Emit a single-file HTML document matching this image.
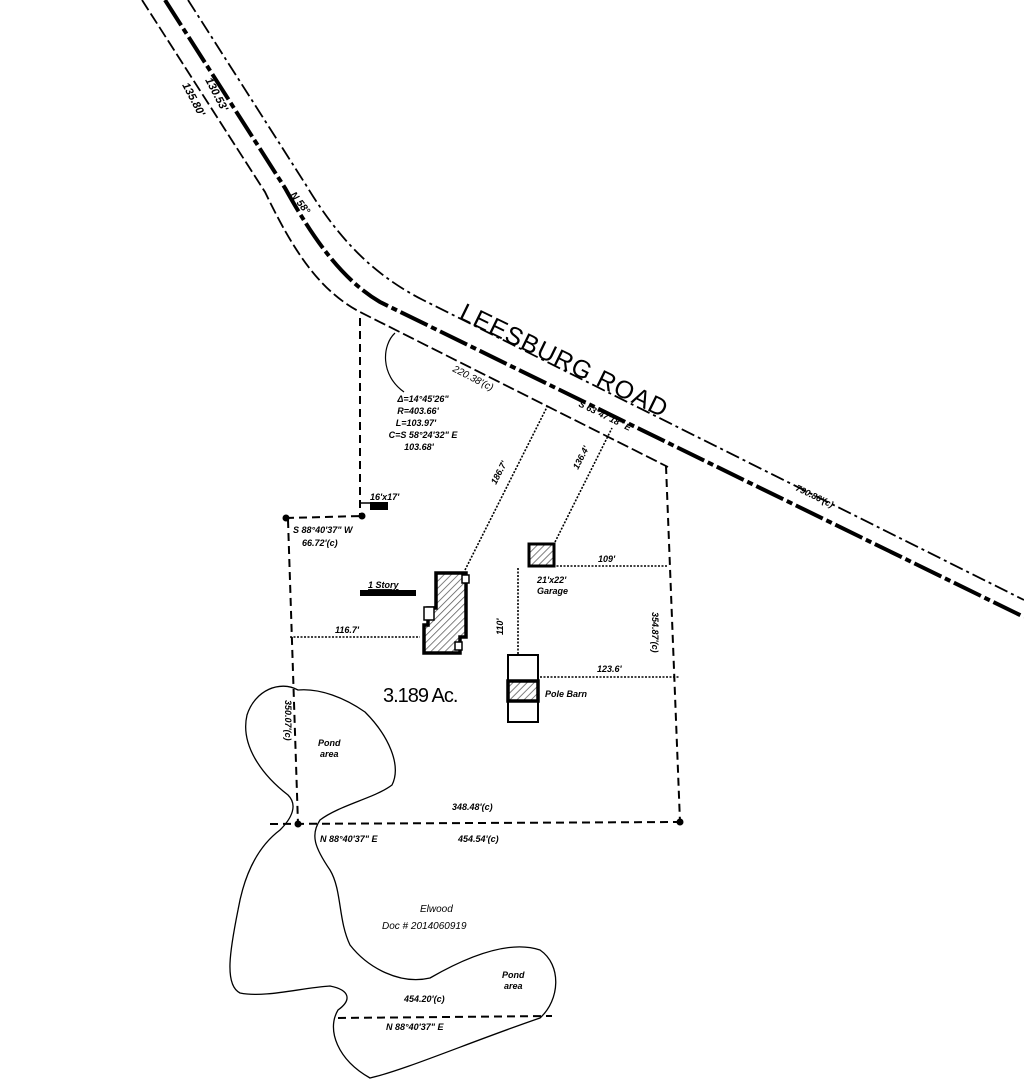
<!DOCTYPE html>
<html><head><meta charset="utf-8"><style>
html,body{margin:0;padding:0;background:#fff}
svg{display:block}
text{font-family:"Liberation Sans",sans-serif;fill:#000}
.b{font-weight:bold;font-style:italic;font-size:9px}
</style></head><body>
<svg width="1024" height="1086" viewBox="0 0 1024 1086" xmlns="http://www.w3.org/2000/svg">
<defs>
<pattern id="h" width="5" height="5" patternUnits="userSpaceOnUse" patternTransform="rotate(45)">
<rect width="5" height="5" fill="#fff"/><line x1="0" y1="0" x2="0" y2="5" stroke="#555" stroke-width="1.5"/></pattern>
</defs>
<g fill="none" stroke="#000">
<!-- road -->
<path d="M188,0 L306,185 C338,238 372,274 423,300 L1024,600" stroke-width="1.8" stroke-dasharray="14,4,3,4"/>
<path d="M165,0 L285,188 C315,242 343,280 380,302 L1024,617" stroke-width="4" stroke-dasharray="30,4,6,4"/>
<path d="M142,0 L265,192 C292,248 318,290 360,312 L668,467" stroke-width="1.8" stroke-dasharray="12,4"/>
<!-- parcel boundary -->
<g stroke-width="2" stroke-dasharray="8,5">
<path d="M360,318 V516"/>
<path d="M286,518 L362,516"/>
<path d="M288,520 L298,824"/>
<path d="M270,824 L680,822"/>
<path d="M666,466 L680,822"/>
<path d="M338,1018 L552,1016"/>
</g>
<!-- dotted ties -->
<g stroke-width="1.6" stroke-dasharray="2,1.5">
<path d="M290,637 H420"/>
<path d="M553,566 H668"/>
<path d="M540,677 H680"/>
<path d="M518,568 V680"/>
<path d="M465,570 L548,405"/>
<path d="M555,542 L612,428"/>
</g>
<!-- curve arrow -->
<path d="M404,392 C380,375 382,345 395,333" stroke-width="1.2"/>
<path d="M360,503 H372" stroke-width="1.5"/>
<!-- buildings -->
<path d="M436,573 H466 V637 H460 V653 H424 V625 H428 V608 H436 Z" fill="url(#h)" stroke-width="3.5"/>
<rect x="424" y="607" width="10" height="13" fill="#fff" stroke-width="1.5"/>
<rect x="462" y="575" width="7" height="8" fill="#fff" stroke-width="1.5"/>
<rect x="455" y="642" width="7" height="8" fill="#fff" stroke-width="1.5"/>
<rect x="529" y="544" width="25" height="22" fill="url(#h)" stroke-width="3"/>
<rect x="508" y="655" width="30" height="67" fill="#fff" stroke-width="2"/>
<rect x="508" y="681" width="30" height="20" fill="url(#h)" stroke-width="3.5"/>
<!-- ponds -->
<path d="M298,690 C280,680 255,690 247,715 C240,745 262,775 288,795 C298,805 292,818 280,830 C260,845 245,870 238,910 C230,950 224,985 240,993 C265,998 300,988 330,986 C350,990 352,1000 338,1010 C326,1030 338,1060 370,1078 C405,1070 470,1042 540,1018 C560,1000 562,965 540,950 C510,940 470,955 430,978 C400,985 368,968 350,945 C338,920 342,890 330,870 C315,848 310,835 320,820 C340,805 375,798 392,785 C402,765 388,735 365,712 C345,698 320,688 298,690 Z" stroke-width="1.3"/>
</g>
<!-- corner dots -->
<g fill="#000"><circle cx="286" cy="518" r="3.5"/><circle cx="362" cy="516" r="3.5"/><circle cx="298" cy="824" r="3.5"/><circle cx="680" cy="822" r="3.5"/></g>
<!-- labels -->
<text transform="translate(458,318) rotate(26)" font-size="25" letter-spacing="1">LEESBURG ROAD</text>
<text transform="translate(452,371) rotate(27)" font-size="10" font-style="italic">220.38'(c)</text>
<text class="b" transform="translate(578,406) rotate(26)">S 63°47'18" E</text>
<text class="b" transform="translate(795,490) rotate(26)" font-size="11">790.86'(c)</text>
<g class="b" text-anchor="middle">
<text x="423" y="402">Δ=14°45'26"</text>
<text x="418" y="414">R=403.66'</text>
<text x="416" y="426">L=103.97'</text>
<text x="423" y="438">C=S 58°24'32" E</text>
<text x="419" y="450">103.68'</text>
</g>
<text class="b" x="370" y="500" font-size="8">16'x17'</text>
<rect x="370" y="502" width="18" height="8" fill="#000"/>
<text class="b" x="293" y="533">S 88°40'37" W</text>
<text class="b" x="302" y="546">66.72'(c)</text>
<text class="b" x="368" y="588" font-size="10" text-decoration="underline">1 Story</text>
<rect x="360" y="590" width="56" height="6" fill="#000"/>
<text class="b" x="335" y="633">116.7'</text>
<text class="b" x="598" y="562">109'</text>
<text class="b" x="537" y="583" font-size="8">21'x22'</text>
<text class="b" x="537" y="594">Garage</text>
<text class="b" x="597" y="672">123.6'</text>
<text class="b" x="545" y="697">Pole Barn</text>
<text class="b" transform="translate(503,635) rotate(-90)">110'</text>
<text class="b" transform="translate(496,485) rotate(-63)">186.7'</text>
<text class="b" transform="translate(578,470) rotate(-63)">136.4'</text>
<text class="b" transform="translate(652,612) rotate(90)">354.87'(c)</text>
<text class="b" transform="translate(285,700) rotate(90)">350.07'(c)</text>
<text x="383" y="702" font-size="20" letter-spacing="-1">3.189 Ac.</text>
<text class="b" x="318" y="746">Pond</text>
<text class="b" x="320" y="757" font-size="7">area</text>
<text class="b" x="452" y="810" font-size="11">348.48'(c)</text>
<text class="b" x="320" y="842">N 88°40'37" E</text>
<text class="b" x="458" y="842" font-size="11">454.54'(c)</text>
<text x="420" y="912" font-size="10" font-style="italic" fill="#333">Elwood</text>
<text x="382" y="929" font-size="10" font-style="italic" fill="#333">Doc # 2014060919</text>
<text class="b" x="502" y="978">Pond</text>
<text class="b" x="504" y="989" font-size="7">area</text>
<text class="b" x="404" y="1002" font-size="11">454.20'(c)</text>
<text class="b" x="386" y="1030">N 88°40'37" E</text>
<g class="b">
<text transform="translate(205,80) rotate(62)" font-size="11">130.53'</text>
<text transform="translate(182,85) rotate(62)" font-size="11">135.80'</text>
<text transform="translate(290,195) rotate(52)" font-size="10">N 58°</text>
</g>
</svg>
</body></html>
